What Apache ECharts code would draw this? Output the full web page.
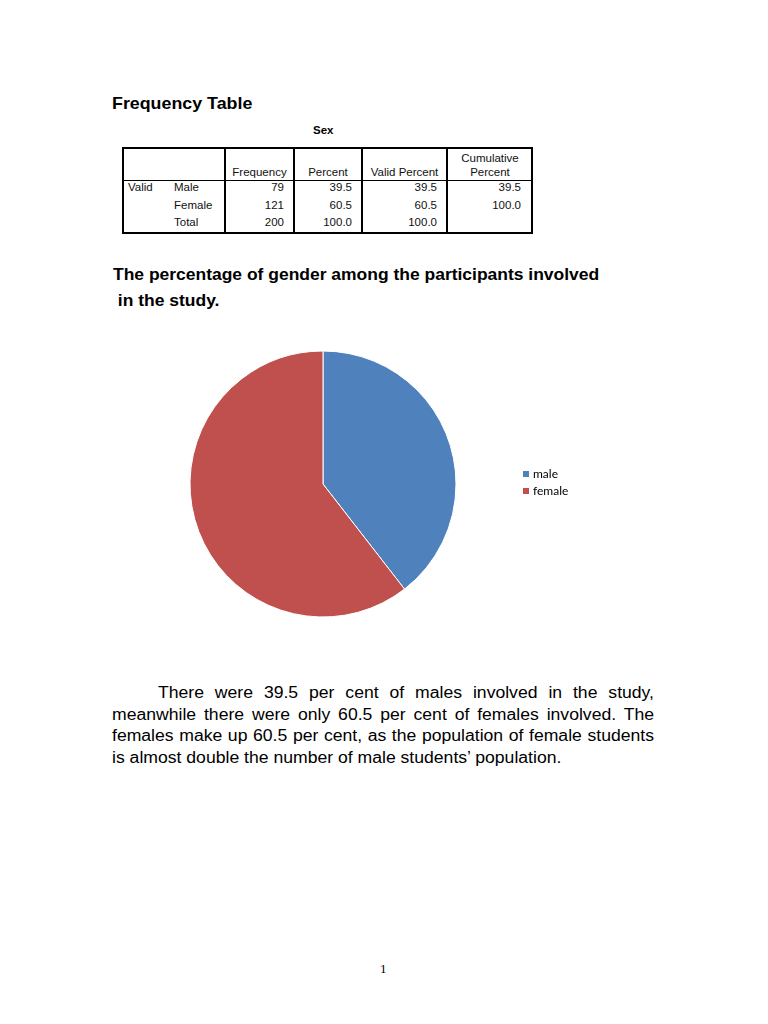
<!DOCTYPE html>
<html>
<head>
<meta charset="utf-8">
<script src="https://cdn.jsdelivr.net/npm/echarts@6/dist/echarts.min.js"></script>
<style>
  html, body { margin: 0; padding: 0; background: #fff; }
  body { width: 768px; height: 1024px; position: relative; overflow: hidden; font-family: "Liberation Sans", Arial, sans-serif; color: #000; }
  .abs { position: absolute; white-space: nowrap; transform-origin: 0 0; }
  .tbl { position: absolute; left: 122px; top: 147px; width: 411px; height: 87px; box-sizing: border-box; border: 2px solid #000; }
  .vl { position: absolute; top: 147px; height: 87px; width: 1.5px; background: #000; }
  .hl { position: absolute; left: 122px; width: 411px; height: 1px; background: #000; top: 180px; }
  .cell { position: absolute; font-size: 11.5px; line-height: 14px; color: #111; }
  #para { position: absolute; left: 112px; top: 682px; font-size: 16px; line-height: 21.6px; transform-origin: 0 0; }
  #para div { text-align: justify; text-align-last: justify; white-space: nowrap; }
  #para div.last { text-align-last: left; }
  #pie { position: absolute; left: 0; top: 320px; width: 768px; height: 330px; }
</style>
</head>
<body>
<div class="abs" style="left:112px; top:94px; font-weight:bold; font-size:16.5px; transform:scaleX(1.08);">Frequency Table</div>
<div class="abs" style="left:313px; top:124px; font-weight:bold; font-size:11.5px;">Sex</div>
<div id="table"></div>
<div class="abs" style="left:113px; top:262px; font-weight:bold; font-size:15.6px; line-height:26px; transform:scaleX(1.12);">The percentage of gender among the participants involved<br>&nbsp;in the study.</div>
<div id="pie"></div>
<div id="para"></div>
<div class="abs" style="left:380px; top:961px; font-family:'Liberation Serif',serif; font-size:13px;">1</div>

<script>
// 表格数据
var rowLabels = ['Male', 'Female', 'Total'];
var frequency = ['79', '121', '200'];
var percent = ['39.5', '60.5', '100.0'];
var validPercent = ['39.5', '60.5', '100.0'];
var cumulativePercent = ['39.5', '100.0', ''];
var headers = ['Frequency', 'Percent', 'Valid Percent', 'Cumulative\nPercent'];

// 饼图数据
var genders = ['male', 'female'];
var counts = [79, 121];
var colors = ['#4F81BD', '#C0504D'];

// 正文（按原文换行）
var paraLines = [
  'There were 39.5 per cent of males involved in the study,',
  'meanwhile there were only 60.5 per cent of females involved. The',
  'females make up 60.5 per cent, as the population of female students',
  'is almost double the number of male students\u2019 population.'
];

// build the SPSS style table
var colEdges = [225, 294, 362, 447, 533];
var t = document.getElementById('table');
var html = '<div class="tbl"></div><div class="hl"></div>';
[225, 294, 362, 447].forEach(function (x) {
  html += '<div class="vl" style="left:' + (x - 0.75) + 'px"></div>';
});
headers.forEach(function (h, i) {
  var l = colEdges[i], w = colEdges[i + 1] - l;
  var lines = h.split('\n');
  var top = lines.length > 1 ? 151 : 165;
  html += '<div class="cell" style="left:' + l + 'px;width:' + w + 'px;top:' + top + 'px;text-align:center">' + lines.join('<br>') + '</div>';
});
html += '<div class="cell" style="left:128px;top:180px">Valid</div>';
var cols = [frequency, percent, validPercent, cumulativePercent];
rowLabels.forEach(function (lab, r) {
  var y = 180 + r * 17.5;
  html += '<div class="cell" style="left:174px;top:' + y + 'px">' + lab + '</div>';
  cols.forEach(function (col, c) {
    var right = 768 - colEdges[c + 1] + (c === 3 ? 12 : 10);
    html += '<div class="cell" style="right:' + right + 'px;top:' + y + 'px;text-align:right">' + col[r] + '</div>';
  });
});
t.innerHTML = html;

// paragraph: scale so the last line is ~450px wide, like the source
var para = document.getElementById('para');
var ctx = document.createElement('canvas').getContext('2d');
ctx.font = '16px "Liberation Sans"';
var sx = 450 / ctx.measureText(paraLines[3]).width;
para.style.width = (542 / sx) + 'px';
para.style.transform = 'scaleX(' + sx + ')';
para.innerHTML = paraLines.map(function (l, i) {
  var st = i === 0 ? ' style="padding-left:' + (46 / sx) + 'px"' : '';
  return '<div' + (i === paraLines.length - 1 ? ' class="last"' : '') + st + '>' + l + '</div>';
}).join('');

// 饼图
var pieChart = echarts.init(document.getElementById('pie'));
var pieOption = {
  animation: false,
  color: colors,
  legend: {
    orient: 'vertical',
    left: 521,
    top: 148,
    padding: 0,
    icon: 'rect',
    itemWidth: 8,
    itemHeight: 8,
    itemGap: 5,
    textStyle: { fontFamily: 'Lato, "Open Sans", sans-serif', fontSize: 12, color: '#000', padding: [0, 0, 0, -2] },
    data: genders
  },
  series: [{
    type: 'pie',
    center: [323, 164],
    radius: 133,
    startAngle: 90,
    clockwise: true,
    label: { show: false },
    labelLine: { show: false },
    itemStyle: { borderColor: '#fff', borderWidth: 1 },
    emphasis: { disabled: true },
    data: genders.map(function (g, i) { return { name: g, value: counts[i] }; })
  }]
};
pieChart.setOption(pieOption);
</script>
</body>
</html>
